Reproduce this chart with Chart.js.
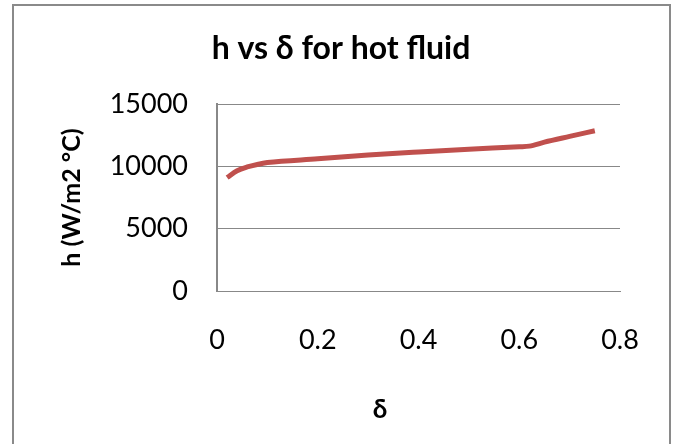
<!DOCTYPE html>
<html>
<head>
<meta charset="utf-8">
<script src="https://cdn.jsdelivr.net/npm/chart.js@4/dist/chart.umd.min.js"></script>
<style>
    html, body { margin: 0; padding: 0; background: #fff; }
    #chart { display: block; }
</style>
</head>
<body>
<canvas id="chart" width="673" height="444"></canvas>
<script>
// Data
const deltaValues = [0.02, 0.04, 0.06, 0.08, 0.1, 0.2, 0.3, 0.4, 0.5, 0.6, 0.62, 0.65, 0.7, 0.75];
const hValues = [9100, 9650, 9950, 10150, 10300, 10600, 10900, 11150, 11380, 11570, 11620, 11940, 12400, 12850];

const chartTitle = 'h vs δ for hot fluid';
const xTitle = 'δ';
const yTitle = 'h (W/m2 °C)';

const FONT = 'Lato, "Open Sans", sans-serif';
const GRID = '#888888';

// Outer chart border like the spreadsheet frame
const frameBorder = {
    id: 'frameBorder',
    beforeDraw(chart) {
        const ctx = chart.ctx;
        ctx.save();
        ctx.strokeStyle = '#8a8a8a';
        ctx.lineWidth = 2;
        ctx.strokeRect(13, 5, 657, 460);
        ctx.restore();
    }
};

// The x axis title sits left of the plot centre in the original
const xAxisTitle = {
    id: 'xAxisTitle',
    afterDraw(chart) {
        const ctx = chart.ctx;
        const area = chart.chartArea;
        ctx.save();
        ctx.fillStyle = '#000';
        ctx.font = 'bold 26px ' + FONT;
        ctx.textAlign = 'center';
        ctx.textBaseline = 'middle';
        ctx.fillText(xTitle, area.left + 163, area.bottom + 119);
        ctx.restore();
    }
};

const points = deltaValues.map((d, i) => ({ x: d, y: hValues[i] }));

new Chart(document.getElementById('chart'), {
    type: 'line',
    data: {
        datasets: [{
            label: 'h',
            data: points,
            borderColor: '#C0504D',
            borderWidth: 5,
            cubicInterpolationMode: 'monotone',
            pointRadius: 0,
            fill: false
        }]
    },
    options: {
        responsive: false,
        animation: false,
        layout: { padding: { left: 9, right: 0, top: 0, bottom: 0 } },
        plugins: {
            legend: { display: false },
            tooltip: { enabled: false },
            title: {
                display: true,
                text: chartTitle,
                color: '#000',
                font: { family: FONT, size: 32, weight: 'bold' },
                padding: { top: 29, bottom: 36.6 }
            }
        },
        scales: {
            x: {
                type: 'linear',
                min: 0,
                max: 0.8,
                afterFit(scale) { scale.height = 153; },
                grid: { display: false, drawTicks: false },
                border: { display: true, color: GRID, width: 1 },
                ticks: {
                    stepSize: 0.2,
                    padding: 33,
                    color: '#000',
                    font: { family: FONT, size: 27 },
                    callback: v => String(+v.toFixed(1))
                }
            },
            y: {
                min: 0,
                max: 15000,
                afterFit(scale) { scale.width = 208; },
                grid: { color: GRID, lineWidth: 1, drawTicks: false },
                border: { display: true, color: GRID, width: 2 },
                ticks: {
                    stepSize: 5000,
                    padding: 29,
                    color: '#000',
                    font: { family: FONT, size: 27 },
                    callback: v => String(v)
                },
                title: {
                    display: true,
                    text: yTitle,
                    color: '#000',
                    font: { family: FONT, size: 25, weight: 'bold' },
                    padding: { top: 48, bottom: 0 }
                }
            },
            // empty right axis only reserves the margin right of the plot
            yRight: {
                position: 'right',
                afterFit(scale) { scale.width = 53; },
                grid: { display: false, drawTicks: false },
                border: { display: false },
                ticks: { display: false }
            }
        }
    },
    plugins: [frameBorder, xAxisTitle]
});
</script>
</body>
</html>
